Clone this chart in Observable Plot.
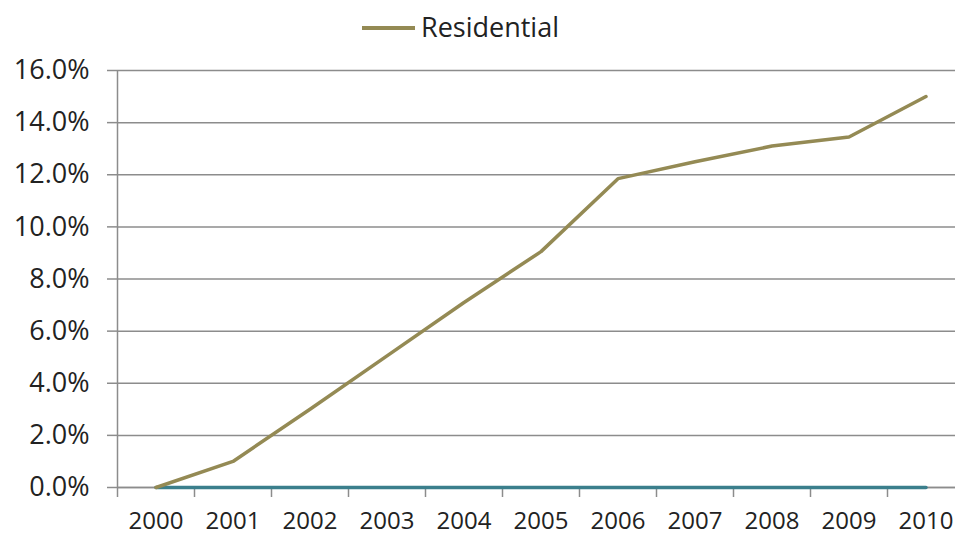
<!DOCTYPE html>
<html>
<head>
<meta charset="utf-8">
<script src="https://cdn.jsdelivr.net/npm/d3@7"></script>
<script src="https://cdn.jsdelivr.net/npm/@observablehq/plot@0.6"></script>
<style>
  html, body { margin: 0; padding: 0; background: #fff; overflow: hidden; }
  body { font-family: "Open Sans", sans-serif; color: #222; }
  #legend { display: block; }
  #chart svg { display: block; }
</style>
</head>
<body>
<svg id="legend" width="955" height="50"></svg>
<div id="chart"></div>
<script>
// Annual share, 2000–2010
const years = [2000, 2001, 2002, 2003, 2004, 2005, 2006, 2007, 2008, 2009, 2010];
const residential = [0.000, 0.010, 0.030, 0.0505, 0.071, 0.0905, 0.1185, 0.125, 0.131, 0.1345, 0.150];
const otherSeries = [0, 0, 0, 0, 0, 0, 0, 0, 0, 0, 0];
const yTicks = [0, 0.02, 0.04, 0.06, 0.08, 0.10, 0.12, 0.14, 0.16];
const seriesName = "Residential";

const olive = "#948A54";
const teal = "#3B7F8C";
const grey = "#8C8C8C";
const ink = "#222";

// Category boundaries sit halfway between consecutive years
const boundaries = years.map(y => y - 0.5).concat([years[years.length - 1] + 0.5]);

const rows = years.map((year, i) => ({year, residential: residential[i], other: otherSeries[i]}));

// Legend above the chart
const legend = d3.select("#legend");
legend.append("line")
  .attr("x1", 362).attr("x2", 415).attr("y1", 28).attr("y2", 28)
  .attr("stroke", olive).attr("stroke-width", 4);
legend.append("text")
  .attr("x", 421).attr("y", 37)
  .attr("font-family", "Open Sans, sans-serif")
  .attr("font-size", 27)
  .attr("fill", ink)
  .text(seriesName);

const chart = Plot.plot({
  width: 955,
  height: 485,
  marginTop: 20,
  marginBottom: 48,
  marginLeft: 117,
  marginRight: 0,
  style: {fontFamily: "Open Sans, sans-serif", background: "#fff", color: ink},
  x: {type: "linear", domain: [boundaries[0], boundaries[boundaries.length - 1]], range: [117, 964]},
  y: {domain: [0, 0.16]},
  marks: [
    Plot.gridY(yTicks, {stroke: grey, strokeOpacity: 1, strokeWidth: 1.5}),
    Plot.ruleX([boundaries[0]], {y1: 0, y2: 0.16, stroke: grey, strokeWidth: 1.5}),
    Plot.axisY(yTicks, {
      tickSize: 10, tickPadding: 18, tickFormat: d3.format(".1%"),
      fontSize: 27, stroke: grey, strokeWidth: 1.5, fill: ink, label: null
    }),
    Plot.axisX(boundaries, {tickSize: 10, tickFormat: () => "", stroke: grey, strokeWidth: 1.5, label: null}),
    Plot.axisX(years, {tickSize: 0, tickPadding: 24, tickFormat: d => String(d), fontSize: 24, fill: ink, label: null}),
    Plot.ruleY([0], {stroke: grey, strokeWidth: 1.5}),
    Plot.line(rows, {x: "year", y: "other", stroke: teal, strokeWidth: 3.5}),
    Plot.line(rows, {x: "year", y: "residential", stroke: olive, strokeWidth: 3.5})
  ]
});
document.getElementById("chart").appendChild(chart);
</script>
</body>
</html>
